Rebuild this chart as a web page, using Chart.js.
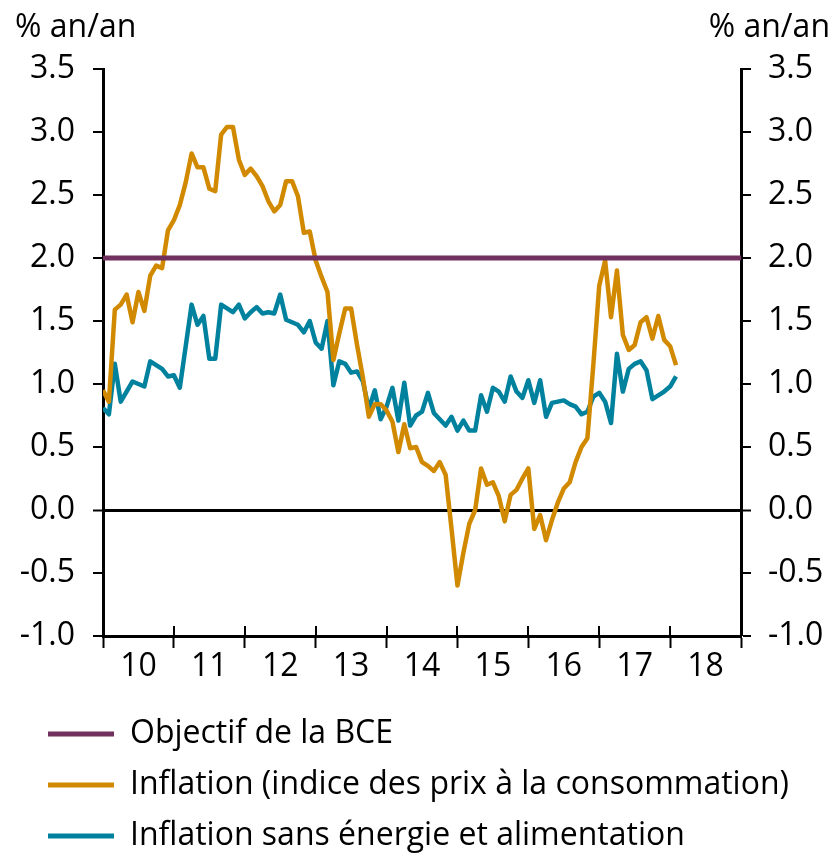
<!DOCTYPE html>
<html lang="fr">
<head>
<meta charset="utf-8">
<title>Inflation zone euro</title>
<script src="https://cdn.jsdelivr.net/npm/chart.js@4.4.1/dist/chart.umd.min.js"></script>
<style>
    html, body { margin: 0; padding: 0; background: #fff; }
</style>
</head>
<body>
<canvas id="inflationChart" width="834" height="858"></canvas>
<script>
// axe des x : un point par mois, de janv. 2010 à fév. 2018
const annees = ['10', '11', '12', '13', '14', '15', '16', '17', '18'];
const nbMois = 108; // l'axe va jusqu'à fin 2018

// Inflation (IPCH), % an/an
const inflation = [
    0.95, 0.86, 1.59, 1.63, 1.71, 1.49, 1.73, 1.58, 1.86, 1.94, 1.92, 2.22, // 2010
    2.30, 2.42, 2.60, 2.83, 2.72, 2.72, 2.55, 2.53, 2.98, 3.04, 3.04, 2.78, // 2011
    2.66, 2.71, 2.65, 2.57, 2.45, 2.37, 2.42, 2.61, 2.61, 2.49, 2.20, 2.21, // 2012
    1.98, 1.85, 1.73, 1.19, 1.40, 1.60, 1.60, 1.31, 1.05, 0.74, 0.84, 0.84, // 2013
    0.79, 0.70, 0.46, 0.68, 0.49, 0.50, 0.38, 0.35, 0.31, 0.38, 0.28, -0.15, // 2014
    -0.60, -0.34, -0.11, 0.00, 0.33, 0.20, 0.22, 0.11, -0.09, 0.12, 0.16, 0.25, // 2015
    0.33, -0.15, -0.04, -0.24, -0.08, 0.06, 0.17, 0.22, 0.38, 0.50, 0.57, 1.15, // 2016
    1.78, 1.98, 1.53, 1.90, 1.39, 1.27, 1.31, 1.49, 1.53, 1.36, 1.54, 1.35, // 2017
    1.30, 1.15 // 2018
];

// Inflation sans énergie et alimentation, % an/an
const inflationSansEnergie = [
    0.81, 0.76, 1.16, 0.86, 0.94, 1.02, 1.00, 0.98, 1.18, 1.15, 1.12, 1.06, // 2010
    1.07, 0.97, 1.30, 1.63, 1.47, 1.54, 1.20, 1.20, 1.63, 1.60, 1.57, 1.63, // 2011
    1.52, 1.57, 1.61, 1.56, 1.57, 1.56, 1.71, 1.51, 1.49, 1.47, 1.41, 1.50, // 2012
    1.33, 1.28, 1.50, 0.99, 1.18, 1.16, 1.09, 1.10, 1.02, 0.80, 0.95, 0.72, // 2013
    0.82, 0.97, 0.71, 1.01, 0.67, 0.75, 0.78, 0.93, 0.77, 0.72, 0.67, 0.74, // 2014
    0.63, 0.71, 0.63, 0.63, 0.91, 0.78, 0.97, 0.94, 0.86, 1.06, 0.94, 0.89, // 2015
    1.03, 0.85, 1.03, 0.74, 0.85, 0.86, 0.87, 0.84, 0.82, 0.76, 0.78, 0.90, // 2016
    0.93, 0.86, 0.69, 1.24, 0.94, 1.12, 1.16, 1.18, 1.11, 0.88, 0.91, 0.94, // 2017
    0.98, 1.06 // 2018
];

const objectifBCE = 2.0;
const unite = '% an/an';

const police = '"Open Sans", Lato, sans-serif';
const taille = 32;
Chart.defaults.font.family = police;
Chart.defaults.font.size = taille;
Chart.defaults.color = '#000';

function versPoints(valeurs) {
    return valeurs.map((v, i) => ({ x: i, y: v }));
}

// titres d'unité en haut des deux axes + petits traits des années côté intérieur
const decorations = {
    id: 'decorations',
    beforeDraw(chart) {
        // décale la légende vers la droite comme dans l'original
        chart.legend.left = 29;
    },
    afterDraw(chart) {
        const ctx = chart.ctx;
        const x = chart.scales.x;
        const bas = chart.chartArea.bottom;
        ctx.save();
        ctx.strokeStyle = '#000';
        ctx.lineWidth = 2;
        for (let v = 0; v <= nbMois; v += 12) {
            const px = Math.round(x.getPixelForValue(v));
            ctx.beginPath();
            ctx.moveTo(px, bas - 10);
            ctx.lineTo(px, bas);
            ctx.stroke();
        }
        ctx.font = taille + 'px ' + police;
        ctx.fillStyle = '#000';
        ctx.textBaseline = 'middle';
        ctx.textAlign = 'left';
        ctx.fillText(unite, 15, 28);
        ctx.textAlign = 'right';
        ctx.fillText(unite, 830, 28);
        ctx.restore();
    }
};

const ctx = document.getElementById('inflationChart').getContext('2d');

const axeY = (position, largeur) => ({
    type: 'linear',
    position: position,
    min: -1,
    max: 3.5,
    afterFit: scale => { scale.width = largeur; },
    border: { color: '#000', width: 3 },
    grid: {
        drawOnChartArea: position === 'left',
        color: c => (c.tick && c.tick.value === 0) ? '#000' : 'rgba(0,0,0,0)',
        lineWidth: c => (c.tick && c.tick.value === 0) ? 3 : 0,
        tickColor: '#000',
        tickWidth: 2,
        tickLength: 10
    },
    ticks: {
        stepSize: 0.5,
        padding: position === 'left' ? 18 : 17,
        callback: v => v.toFixed(1)
    }
});

new Chart(ctx, {
    type: 'line',
    data: {
        datasets: [{
            label: 'Objectif de la BCE',
            data: [{ x: 0, y: objectifBCE }, { x: nbMois, y: objectifBCE }],
            borderColor: '#72305f',
            borderWidth: 5
        }, {
            label: 'Inflation (indice des prix à la consommation)',
            data: versPoints(inflation),
            borderColor: '#d18a00',
            borderWidth: 4.5
        }, {
            label: 'Inflation sans énergie et alimentation',
            data: versPoints(inflationSansEnergie),
            borderColor: '#00819e',
            borderWidth: 4.5
        }]
    },
    options: {
        responsive: false,
        animation: false,
        elements: {
            point: { radius: 0 },
            line: { tension: 0, borderJoinStyle: 'round' }
        },
        layout: {
            padding: { left: 0, right: 0, top: 69, bottom: -4 }
        },
        scales: {
            x: {
                type: 'linear',
                min: 0,
                max: nbMois,
                afterFit: scale => { scale.height = 63; },
                border: { color: '#000', width: 3 },
                grid: {
                    drawOnChartArea: false,
                    tickLength: 12,
                    tickWidth: 2,
                    tickColor: c => (c.tick && c.tick.value % 12 === 0) ? '#000' : 'rgba(0,0,0,0)'
                },
                ticks: {
                    stepSize: 6,
                    autoSkip: false,
                    maxRotation: 0,
                    padding: 0,
                    callback: v => (v % 12 === 6) ? annees[(v - 6) / 12] : ''
                }
            },
            y: axeY('left', 103),
            y2: axeY('right', 93)
        },
        plugins: {
            tooltip: { enabled: false },
            legend: {
                position: 'bottom',
                align: 'start',
                labels: {
                    boxWidth: 66,
                    boxHeight: 5,
                    padding: 19,
                    font: { size: taille },
                    generateLabels: chart => chart.data.datasets.map((ds, i) => ({
                        text: ds.label,
                        fillStyle: ds.borderColor,
                        strokeStyle: ds.borderColor,
                        lineWidth: 0,
                        hidden: false,
                        datasetIndex: i
                    }))
                }
            }
        }
    },
    plugins: [decorations]
});
</script>
</body>
</html>
